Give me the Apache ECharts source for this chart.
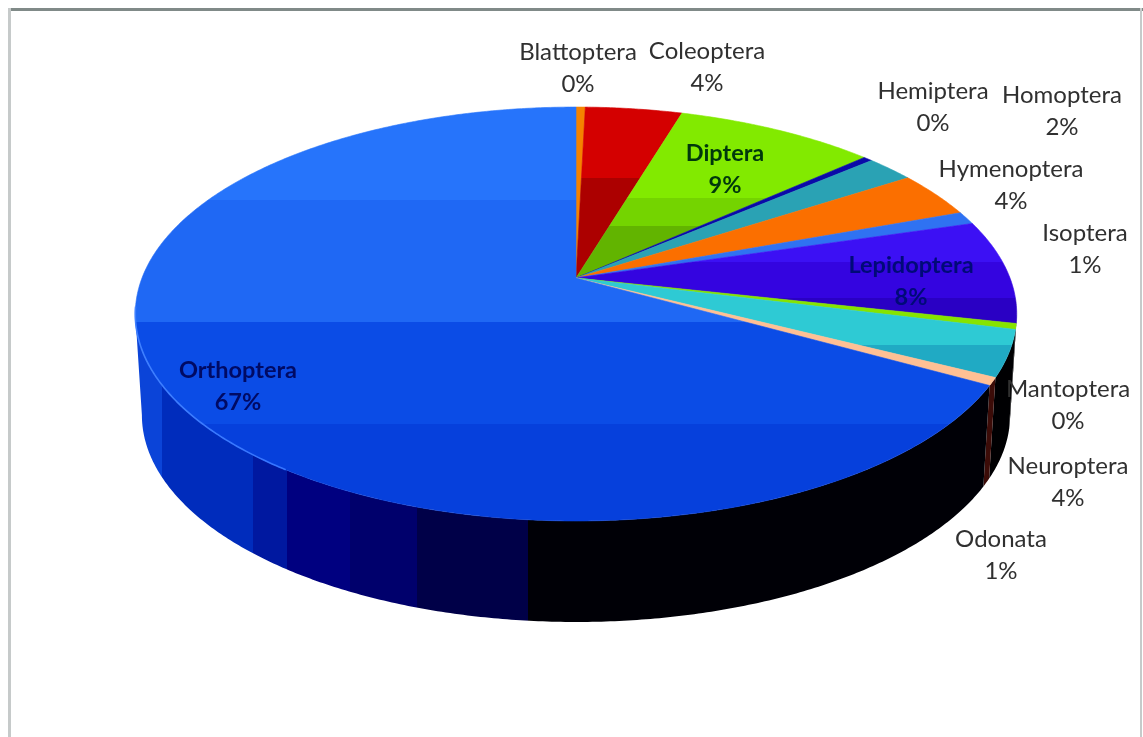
<!DOCTYPE html>
<html>
<head>
<meta charset="utf-8">
<title>Insect orders</title>
<script src="https://cdn.jsdelivr.net/npm/echarts@6/dist/echarts.min.js"></script>
<style>
html,body{margin:0;padding:0;background:#fff}
#chart{width:1143px;height:737px}
</style>
</head>
<body>
<div id="chart"></div>
<script>
// Share of each insect order, in percent, clockwise from twelve o'clock.
const orders = ['Blattoptera','Coleoptera','Diptera','Hemiptera','Homoptera','Hymenoptera','Isoptera','Lepidoptera','Mantoptera','Neuroptera','Odonata','Orthoptera'];
const shares = [0.4, 4.2, 8.7, 0.4, 2.1, 3.6, 1.0, 8.1, 0.45, 3.6, 0.6, 66.85];

// Top-face colour bands per order: [y where the band ends, colour].
const topBands = [
  [[999,'#f58200']],
  [[178,'#d40000'],[999,'#ac0000']],
  [[198,'#82ea00'],[226,'#74d400'],[999,'#62b400']],
  [[999,'#0a0aa8']],
  [[999,'#2aa2b4']],
  [[999,'#fb6f00']],
  [[999,'#2f72f2']],
  [[262,'#3c10f4'],[298,'#3404e0'],[999,'#2a00c4']],
  [[999,'#86e400']],
  [[345,'#2ecad4'],[999,'#20aac4']],
  [[999,'#ffc094']],
  [[200,'#2674fb'],[322,'#1f68f4'],[424,'#0b4ce6'],[999,'#0640dc']]
];
// Side-wall colour bands for the front-facing orders: [x where the band ends, colour].
const blackWall = [[9999,'#000002']];
const wallBands = orders.map(function () { return blackWall; });
wallBands[10] = [[9999,'#3c0c08']];
wallBands[11] = [[162,'#0b44d8'],[253,'#002cbc'],[287,'#0018a0'],[350,'#000080'],[417,'#00006c'],[528,'#000048'],[9999,'#000006']];

// Hand-placed label centres, as a spreadsheet's chart layout would have them.
const labelCentres = [[578,68],[707,67],[725,169],[933,107],[1062,111],[1011,185],[1085,249],[911,281],[1068,405],[1068,482],[1001,555],[238,386]];
const labelColours = {Diptera:'#00380c',Lepidoptera:'#000a78',Orthoptera:'#000a64'};

// Projection of the tilted disc: apex, radii and perspective strength.
const apex = {x:576, y:278};
const radX = 434, radY = 200.7, persp = 0.174;
const depth = 101, baseShrink = 0.985;
const wallFrom = 100, wallTo = 260;   // degrees where the wall is visible

// Running totals give each order its start and end on the share scale.
const total = shares.reduce(function (a, b) { return a + b; }, 0);
let running = 0;
const spans = shares.map(function (v) {
  const start = running;
  running += v;
  return [start, running];
});

function project(deg, lower) {
  const t = deg * Math.PI / 180;
  const s = -Math.cos(t), c = Math.sin(t), d = 1 - persp * s;
  const dx = radX * c / d, dy = radY * s / d;
  return lower
    ? [apex.x + dx * baseShrink, apex.y + dy + depth]
    : [apex.x + dx, apex.y + dy];
}
function toDegrees(share) {
  return echarts.number.linearMap(share, [0, total], [0, 360]);
}
function arc(a, b, lower) {
  const pts = [], n = Math.max(2, Math.ceil(Math.abs(b - a) * 2));
  for (let i = 0; i <= n; i++) pts.push(project(a + (b - a) * i / n, lower));
  return pts;
}
function hardStops(bands, from, to) {
  const stops = [];
  let prev = 0;
  bands.forEach(function (b) {
    const end = Math.min(1, (b[0] - from) / (to - from));
    stops.push({offset: prev, color: b[1]}, {offset: end, color: b[1]});
    prev = end;
  });
  return stops;
}

function renderWall(params, api) {
  const a = Math.max(toDegrees(api.value(0)), wallFrom);
  const b = Math.min(toDegrees(api.value(1)), wallTo);
  if (b <= a) return null;
  const pts = arc(a, b, false).concat(arc(a, b, true).reverse());
  return {
    type: 'polygon',
    shape: {points: pts},
    style: {
      fill: {type:'linear', x:130, y:0, x2:1020, y2:0, global:true,
             colorStops: hardStops(wallBands[params.dataIndex], 130, 1020)},
      stroke: null
    }
  };
}

function renderTop(params, api) {
  const i = params.dataIndex;
  const a = toDegrees(api.value(0)), b = toDegrees(api.value(1));
  const pts = [[apex.x, apex.y]].concat(arc(a, b, false));
  const fill = {type:'linear', x:0, y:100, x2:0, y2:530, global:true,
                colorStops: hardStops(topBands[i], 100, 530)};
  const children = [{
    type: 'polygon',
    shape: {points: pts},
    style: {fill: fill, stroke: fill, lineWidth: 0.6}
  }];
  // The biggest slice catches a thin highlight along its left rim.
  if (orders[i] === 'Orthoptera') {
    children.push({
      type: 'polyline',
      shape: {points: arc(Math.max(a, 215), Math.min(b, 262), false)},
      style: {
        fill: null, lineWidth: 1.6,
        stroke: {type:'linear', x:135, y:0, x2:500, y2:0, global:true, colorStops:[
          {offset:0, color:'#3f80ff'}, {offset:0.7, color:'#2f6cff'}, {offset:1, color:'rgba(47,108,255,0)'}
        ]}
      }
    });
  }
  return {type:'group', children: children};
}

function renderLabel(params, api) {
  const i = params.dataIndex;
  const name = orders[i];
  const inside = labelColours[name];
  return {
    type: 'text',
    x: labelCentres[i][0],
    y: labelCentres[i][1],
    style: {
      text: name + '\n' + Math.round(shares[i]) + '%',
      fill: inside || '#303030',
      font: (inside ? 'bold 23.5px ' : '24px ') + 'Lato, "Open Sans", sans-serif',
      lineHeight: 32,
      align: 'center',
      verticalAlign: 'middle'
    }
  };
}

const chart = echarts.init(document.getElementById('chart'), null, {renderer:'canvas'});
chart.setOption({
  backgroundColor: '#ffffff',
  animation: false,
  // Thin window frame around the plot.
  graphic: [
    {type:'rect', shape:{x:8,y:8,width:1135,height:3}, style:{fill:'#808a88'}},
    {type:'rect', shape:{x:8,y:8,width:3,height:729}, style:{fill:'#c6caca'}},
    {type:'rect', shape:{x:1140,y:8,width:2,height:729}, style:{fill:'#c6caca'}}
  ],
  series: [
    {type:'custom', name:'wall', coordinateSystem:'none', data:spans, renderItem:renderWall, silent:true, z:1},
    {type:'custom', name:'top', coordinateSystem:'none', data:spans, renderItem:renderTop, silent:true, z:2},
    {type:'custom', name:'labels', coordinateSystem:'none', data:spans, renderItem:renderLabel, silent:true, z:3}
  ]
});
</script>
</body>
</html>
